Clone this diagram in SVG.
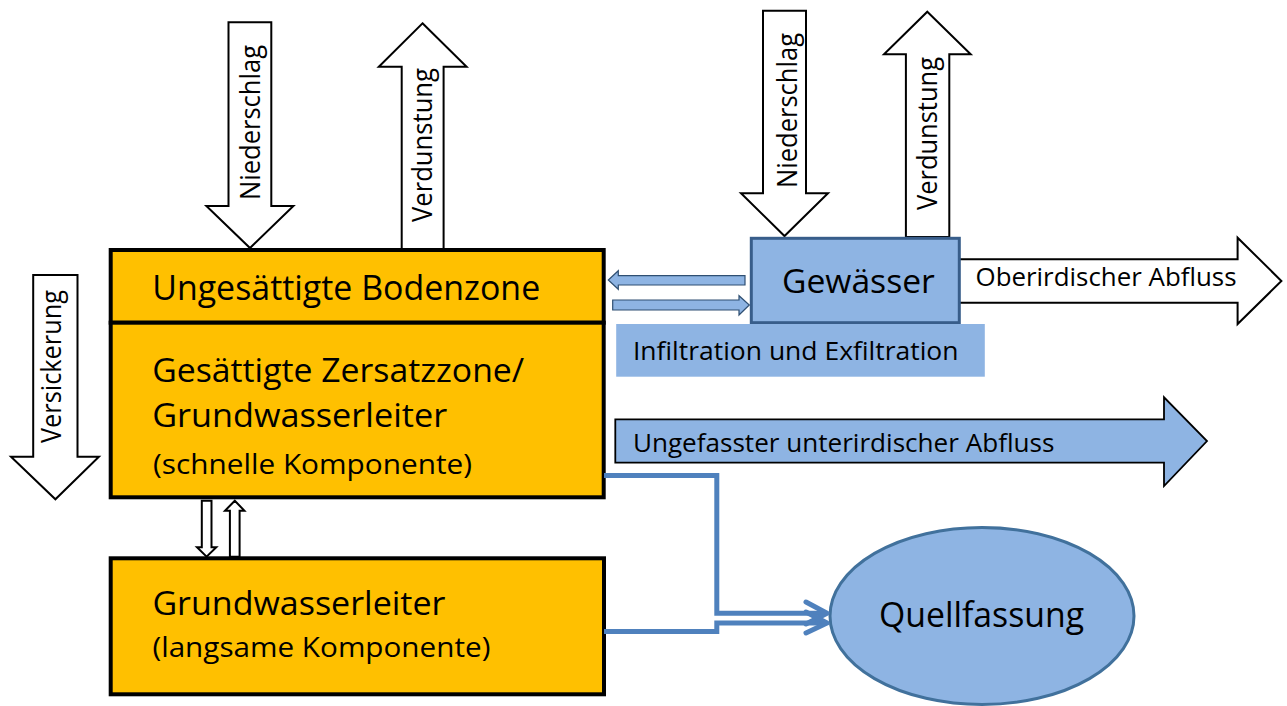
<svg xmlns="http://www.w3.org/2000/svg" width="1287" height="706" viewBox="0 0 1287 706">
<style>
text{font-family:"Open Sans","Liberation Sans",sans-serif;fill:#000}
.white{fill:#fff;stroke:#000;stroke-width:2;stroke-linejoin:miter}
.zone{fill:#FFC000;stroke:#000;stroke-width:4}
.bluebox{fill:#8EB4E3;stroke:#385D8A;stroke-width:3}
.small{fill:#8EB4E3;stroke:#2F4F72;stroke-width:1.2}
.conn{fill:none;stroke:#4F81BD;stroke-width:5;stroke-linejoin:miter}
.head{fill:none;stroke:#4F81BD;stroke-width:5;stroke-linecap:round;stroke-linejoin:round}
.big{font-size:34px}
.mid{font-size:33px}
.sub{font-size:27px}
.lbl{font-size:26px}
.rot{font-size:27px}
</style>
<rect width="1287" height="706" fill="#fff"/>

<g id="niederschlag-boden">
<polygon class="white" points="228.5,22.3 271.3,22.3 271.3,206 293.4,206 250,248 206.4,206 228.5,206"/>
<text class="rot" transform="translate(260,200) rotate(-90)" textLength="155" lengthAdjust="spacingAndGlyphs">Niederschlag</text>
</g>
<g id="verdunstung-boden">
<polygon class="white" points="422.5,23.3 466.6,66.7 443.6,66.7 443.6,249 401.7,249 401.7,66.7 378.8,66.7"/>
<text class="rot" transform="translate(431.8,222) rotate(-90)" textLength="154" lengthAdjust="spacingAndGlyphs">Verdunstung</text>
</g>
<g id="niederschlag-gewaesser">
<polygon class="white" points="763,10.7 806,10.7 806,193.3 828,193.3 784.5,236 741,193.3 763,193.3"/>
<text class="rot" transform="translate(797,188) rotate(-90)" textLength="155" lengthAdjust="spacingAndGlyphs">Niederschlag</text>
</g>
<g id="verdunstung-gewaesser">
<polygon class="white" points="927.3,11.7 970.7,54.3 949.3,54.3 949.3,237 905.9,237 905.9,54.3 884,54.3"/>
<text class="rot" transform="translate(937.4,210) rotate(-90)" textLength="153" lengthAdjust="spacingAndGlyphs">Verdunstung</text>
</g>
<g id="versickerung">
<polygon class="white" points="33.2,275 77.5,275 77.5,456.7 98.9,456.7 55.4,499.3 11,456.7 33.2,456.7"/>
<text class="rot" transform="translate(61,443) rotate(-90)" textLength="153" lengthAdjust="spacingAndGlyphs">Versickerung</text>
</g>

<g id="oberirdischer-abfluss">
<polygon class="white" points="958,259.3 1237.6,259.3 1237.6,237.7 1281.4,281 1237.6,324 1237.6,302.7 958,302.7"/>
<text class="lbl" x="975.5" y="286" textLength="261" lengthAdjust="spacingAndGlyphs">Oberirdischer Abfluss</text>
</g>

<g id="ungefasster-abfluss">
<polygon points="615.3,419.3 1164,419.3 1164,397.3 1207,441 1164,486 1164,462.7 615.3,462.7" fill="#8EB4E3" stroke="#000" stroke-width="1.8"/>
<text class="lbl" x="632.9" y="451.7" textLength="421.5" lengthAdjust="spacingAndGlyphs">Ungefasster unterirdischer Abfluss</text>
</g>

<g id="ungesaettigte-bodenzone">
<rect class="zone" x="110.7" y="250" width="493" height="72.7"/>
<text class="big" x="152.2" y="300" textLength="388" lengthAdjust="spacingAndGlyphs">Ungesättigte Bodenzone</text>
</g>
<g id="gesaettigte-zersatzzone">
<rect class="zone" x="110.7" y="322.7" width="493" height="174.6"/>
<text class="mid" x="152.2" y="381.7" textLength="372" lengthAdjust="spacingAndGlyphs">Gesättigte Zersatzzone/</text>
<text class="mid" x="152.2" y="426.7" textLength="295" lengthAdjust="spacingAndGlyphs">Grundwasserleiter</text>
<text class="sub" x="153" y="474.3" textLength="319" lengthAdjust="spacingAndGlyphs">(schnelle Komponente)</text>
</g>
<g id="grundwasserleiter-langsam">
<rect class="zone" x="110.7" y="558.3" width="493.3" height="136"/>
<text class="mid" x="152.4" y="615" textLength="293" lengthAdjust="spacingAndGlyphs">Grundwasserleiter</text>
<text class="sub" x="152.4" y="656.7" textLength="338" lengthAdjust="spacingAndGlyphs">(langsame Komponente)</text>
</g>

<g id="gewaesser">
<rect class="bluebox" x="751.3" y="238.3" width="208" height="84.4"/>
<text class="mid" x="781.9" y="293.3" textLength="153" lengthAdjust="spacingAndGlyphs">Gewässer</text>
</g>
<g id="infiltration">
<rect x="616.2" y="324" width="368.6" height="52.7" fill="#8EB4E3"/>
<text class="lbl" x="632.9" y="360" textLength="325.6" lengthAdjust="spacingAndGlyphs">Infiltration und Exfiltration</text>
</g>
<g id="quellfassung">
<ellipse cx="982" cy="616" rx="152" ry="88.5" fill="#8EB4E3" stroke="#41719C" stroke-width="3"/>
<text x="879" y="626.7" textLength="205" lengthAdjust="spacingAndGlyphs" style="font-size:35px">Quellfassung</text>
</g>

<g id="connectors">
<polygon class="small" points="745,275.7 618.3,275.7 618.3,270.7 608.3,280 618.3,289.3 618.3,285 745,285"/>
<polygon class="small" points="612.7,300 739,300 739,295.7 749.3,305 739,315 739,310 612.7,310"/>
<polygon class="white" stroke-width="1" points="201.8,500.7 211.5,500.7 211.5,547.3 216.3,547.3 206.6,556.7 197,547.3 201.8,547.3"/>
<polygon class="white" stroke-width="1" points="234.8,500.7 244.4,510.7 239.6,510.7 239.6,556.7 229.9,556.7 229.9,510.7 225,510.7"/>
<polyline class="conn" points="604,475.5 716.8,475.5 716.8,613.3 826,613.3"/>
<polyline class="conn" points="604,631.5 716.8,631.5 716.8,623 826,623"/>
<polyline class="head" points="806,602 827,613.3 806,624"/>
<polyline class="head" points="806,612 827,623 806,633"/>
</g>
</svg>
